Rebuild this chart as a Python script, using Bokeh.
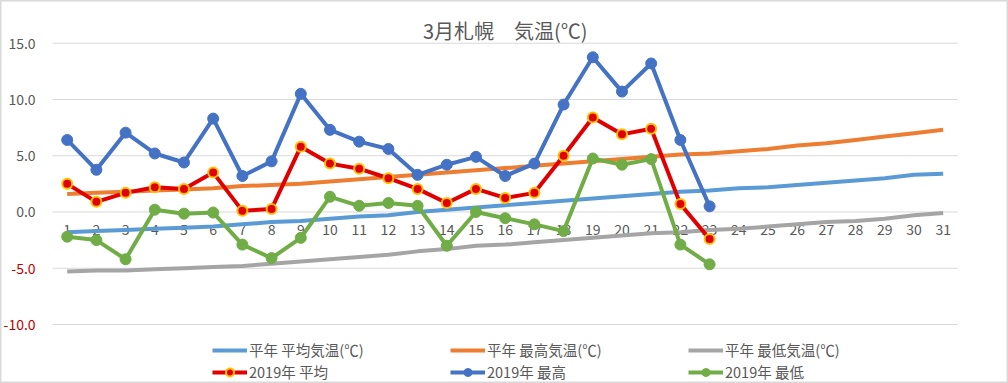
from bokeh.plotting import figure
from bokeh.models import ColumnDataSource, Legend, LegendItem, Range1d
from bokeh.core.properties import value
from bokeh.embed import file_html
from bokeh.resources import INLINE

FONT = "Noto Sans CJK JP"

days = list(range(1, 32))
day_labels = [str(d) for d in days]

normal_avg = [-1.8, -1.7, -1.6, -1.5, -1.4, -1.3, -1.1, -0.9, -0.8, -0.6, -0.4, -0.3, 0.0, 0.2, 0.4, 0.6,
              0.8, 1.0, 1.2, 1.4, 1.6, 1.8, 1.9, 2.1, 2.2, 2.4, 2.6, 2.8, 3.0, 3.3, 3.4]
normal_max = [1.6, 1.7, 1.8, 1.9, 2.0, 2.1, 2.3, 2.4, 2.5, 2.7, 2.9, 3.1, 3.3, 3.5, 3.7, 3.9,
              4.1, 4.3, 4.5, 4.7, 4.9, 5.1, 5.2, 5.4, 5.6, 5.9, 6.1, 6.4, 6.7, 7.0, 7.3]
normal_min = [-5.3, -5.2, -5.2, -5.1, -5.0, -4.9, -4.8, -4.6, -4.4, -4.2, -4.0, -3.8, -3.5, -3.3, -3.0, -2.9,
              -2.7, -2.5, -2.3, -2.1, -1.9, -1.8, -1.6, -1.5, -1.3, -1.1, -0.9, -0.8, -0.6, -0.3, -0.1]

days_2019 = list(range(1, 24))
avg_2019 = [2.5, 0.9, 1.7, 2.2, 2.05, 3.5, 0.1, 0.27, 5.8, 4.3, 3.85, 3.0, 2.05, 0.8, 2.05, 1.25,
            1.7, 5.0, 8.4, 6.9, 7.4, 0.7, -2.4]
max_2019 = [6.4, 3.75, 7.05, 5.2, 4.4, 8.3, 3.2, 4.5, 10.5, 7.3, 6.25, 5.6, 3.3, 4.2, 4.9, 3.2,
            4.3, 9.55, 13.75, 10.7, 13.2, 6.4, 0.5]
min_2019 = [-2.2, -2.5, -4.2, 0.2, -0.15, -0.05, -2.9, -4.1, -2.3, 1.35, 0.55, 0.8, 0.55, -3.0, 0.0, -0.55,
            -1.1, -1.7, 4.75, 4.2, 4.7, -2.9, -4.65]

y_ticks = [-10, -5, 0, 5, 10, 15]
y_tick_labels = ["-10.0", "-5.0", "0.0", "5.0", "10.0", "15.0"]

series_names = ["平年 平均気温(℃)", "平年 最高気温(℃)", "平年 最低気温(℃)",
                "2019年 平均", "2019年 最高", "2019年 最低"]
title_text = "3月札幌　気温(℃)"

# category axis spans 0.5 .. 31.5 ; value axis -10 .. 15
X_MIN, X_MAX = 0.5, 31.5
Y_MIN, Y_MAX = -10, 15

p = figure(width=1008, height=383, output_backend="svg", toolbar_location=None,
           x_range=Range1d(-1.284, 33.237), y_range=Range1d(-15.244, 18.796),
           x_axis_location=None, y_axis_location=None,
           min_border=0)
p.outline_line_color = "#D9D9D9"
p.outline_line_width = 2
p.background_fill_color = "white"
p.border_fill_color = "white"
p.xgrid.visible = False
p.ygrid.visible = False

# title
p.text(x=[(X_MIN + X_MAX) / 2], y=[Y_MAX], text=[title_text], text_align="center", text_baseline="middle",
       y_offset=-13, text_font=value(FONT), text_font_size="20px", text_color="#595959")

# horizontal gridlines
grid_src = ColumnDataSource(dict(x0=[X_MIN] * len(y_ticks), x1=[X_MAX] * len(y_ticks), y=y_ticks))
p.segment(x0="x0", x1="x1", y0="y", y1="y", source=grid_src, line_color="#D9D9D9", line_width=1)

# value-axis labels (negative ones in dark red)
ycolors = ["#C00000" if v < 0 else "#595959" for v in y_ticks]
ylab_src = ColumnDataSource(dict(x=[X_MIN] * len(y_ticks), y=y_ticks, t=y_tick_labels, c=ycolors))
p.text(x="x", y="y", text="t", source=ylab_src, text_color="c", text_align="right",
       text_baseline="middle", x_offset=-17, text_font=value(FONT), text_font_size="14px")

# category labels, crossing at y = 0
xlab_src = ColumnDataSource(dict(x=days, y=[0] * len(days), t=day_labels))
p.text(x="x", y="y", text="t", source=xlab_src, text_align="center", text_baseline="middle",
       y_offset=18, text_font=value(FONT), text_font_size="14px", text_color="#595959")

lw = 4
r_navg = p.line(days, normal_avg, line_color="#5B9BD5", line_width=lw)
r_nmax = p.line(days, normal_max, line_color="#ED7D31", line_width=lw)
r_nmin = p.line(days, normal_min, line_color="#A5A5A5", line_width=lw)

r_avg_l = p.line(days_2019, avg_2019, line_color="#E00000", line_width=lw)
r_avg_m = p.scatter(days_2019, avg_2019, size=10, fill_color="#E00000", line_color="#FFC000", line_width=2)
r_max_l = p.line(days_2019, max_2019, line_color="#4472C4", line_width=lw)
r_max_m = p.scatter(days_2019, max_2019, size=11, fill_color="#4472C4", line_color="#4472C4")
r_min_l = p.line(days_2019, min_2019, line_color="#70AD47", line_width=lw)
r_min_m = p.scatter(days_2019, min_2019, size=11, fill_color="#70AD47", line_color="#70AD47")

items = [
    LegendItem(label=series_names[0], renderers=[r_navg]),
    LegendItem(label=series_names[1], renderers=[r_nmax]),
    LegendItem(label=series_names[2], renderers=[r_nmin]),
    LegendItem(label=series_names[3], renderers=[r_avg_l, r_avg_m]),
    LegendItem(label=series_names[4], renderers=[r_max_l, r_max_m]),
    LegendItem(label=series_names[5], renderers=[r_min_l, r_min_m]),
]
legend = Legend(items=items, location=(212, 1), ncols=3, orientation="horizontal",
                glyph_width=35, glyph_height=20, label_standoff=2, label_width=200, label_height=20,
                spacing=1, padding=0, margin=0, border_line_color=None, background_fill_alpha=0,
                label_text_font=FONT, label_text_font_size="14.5px", label_text_color="#595959")
p.add_layout(legend, "center")

open("out.html", "w").write(file_html(p, INLINE))
